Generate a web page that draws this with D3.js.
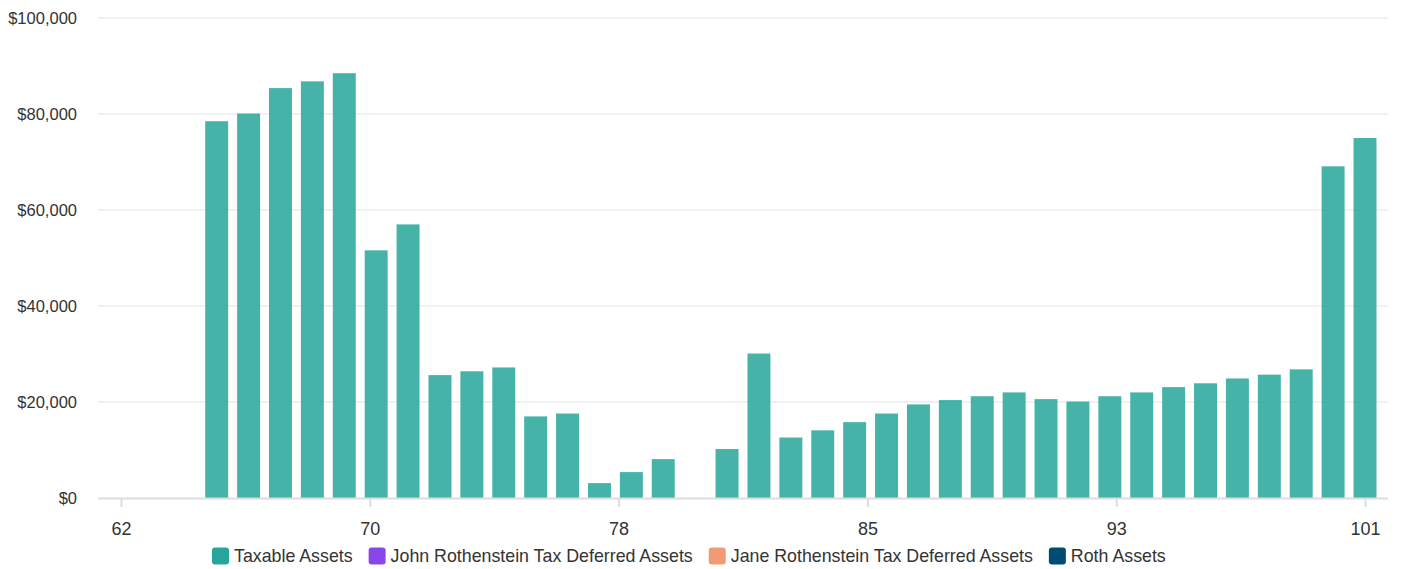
<!DOCTYPE html>
<html>
<head>
<meta charset="utf-8">
<script src="https://cdn.jsdelivr.net/npm/d3@7"></script>
<style>
  html, body { margin: 0; padding: 0; background: #fff; }
  svg { display: block; font-family: "Liberation Sans", Arial, Helvetica, sans-serif; }
</style>
</head>
<body>
<svg id="chart" width="1403" height="569"></svg>
<script>
// Ages shown on the horizontal axis
const ages = d3.range(62, 102);

// Year-end balances per age (USD)
const taxableAssets = [
  0, 0, 0, 78500, 80100, 85400, 86800, 88500, 51600, 57000,
  25600, 26400, 27200, 17000, 17600, 3100, 5400, 8100, 0, 10200,
  30100, 12600, 14100, 15800, 17600, 19500, 20400, 21200, 22000, 20600,
  20100, 21200, 22000, 23100, 23900, 24900, 25700, 26800, 69100, 75000
];
const johnTaxDeferred = ages.map(() => 0);
const janeTaxDeferred = ages.map(() => 0);
const rothAssets = ages.map(() => 0);

const seriesNames = [
  "Taxable Assets",
  "John Rothenstein Tax Deferred Assets",
  "Jane Rothenstein Tax Deferred Assets",
  "Roth Assets"
];
const seriesColors = ["#26a69a", "#8847e8", "#f09b73", "#004b74"];
const yTicks = [0, 20000, 40000, 60000, 80000, 100000];
const xTickCount = 6;

const svg = d3.select("#chart");
const plot = { left: 98, right: 1388, top: 18, bottom: 498 };

// Linear age scale: first and last age sit inset from the plot edges
const x = d3.scaleLinear().domain([62, 101]).range([121, 1365]);
const step = x(63) - x(62);
const barWidth = step * 0.72;

const y = d3.scaleLinear().domain([0, 100000]).range([plot.bottom, plot.top]);

// Horizontal gridlines
svg.append("g")
  .selectAll("line")
  .data(yTicks.filter(d => d > 0))
  .join("line")
  .attr("x1", plot.left).attr("x2", plot.right)
  .attr("y1", d => y(d)).attr("y2", d => y(d))
  .attr("stroke", "#e3e3e3").attr("stroke-width", 1.2);

// Y axis labels
const yAxis = d3.axisLeft(y)
  .tickValues(yTicks)
  .tickSize(0)
  .tickPadding(0)
  .tickFormat(d => "$" + d3.format(",")(d));
const gy = svg.append("g").attr("transform", `translate(77,0)`).call(yAxis);
gy.select(".domain").remove();
gy.selectAll("text")
  .attr("font-size", 16.5)
  .attr("fill", "#333")
  .attr("dy", "0.32em");

// Stacked bars
const rows = ages.map((a, i) => ({
  age: a,
  s0: taxableAssets[i],
  s1: johnTaxDeferred[i],
  s2: janeTaxDeferred[i],
  s3: rothAssets[i]
}));
const stack = d3.stack().keys(["s0", "s1", "s2", "s3"])(rows);
svg.append("g")
  .selectAll("g")
  .data(stack)
  .join("g")
  .attr("fill", (d, i) => seriesColors[i])
  .attr("fill-opacity", 0.85)
  .selectAll("rect")
  .data(d => d.filter(p => p[1] - p[0] > 0))
  .join("rect")
  .attr("x", d => x(d.data.age) - barWidth / 2)
  .attr("width", barWidth)
  .attr("y", d => y(d[1]))
  .attr("height", d => y(d[0]) - y(d[1]));

// X axis: evenly spaced ticks across the age range, labels rounded
const xTickValues = d3.range(xTickCount).map(i => 62 + i * (101 - 62) / (xTickCount - 1));
svg.append("line")
  .attr("x1", plot.left).attr("x2", plot.right)
  .attr("y1", plot.bottom + 0.5).attr("y2", plot.bottom + 0.5)
  .attr("stroke", "#dddddd").attr("stroke-width", 2);
const xAxis = d3.axisBottom(x)
  .tickValues(xTickValues)
  .tickSize(9)
  .tickPadding(15)
  .tickFormat(d => Math.round(d));
const gx = svg.append("g").attr("transform", `translate(0,${plot.bottom})`).call(xAxis);
gx.select(".domain").remove();
gx.selectAll("line").attr("stroke", "#dddddd").attr("stroke-width", 2);
gx.selectAll("text").attr("font-size", 18).attr("fill", "#333");

// Legend
const legend = svg.append("g").attr("transform", "translate(212,556)");
let lx = 0;
seriesNames.forEach((name, i) => {
  const item = legend.append("g").attr("transform", `translate(${lx},0)`);
  item.append("rect")
    .attr("x", 0).attr("y", -8.5).attr("width", 17).attr("height", 17)
    .attr("rx", 3).attr("fill", seriesColors[i]);
  const t = item.append("text")
    .attr("x", 22).attr("y", 0).attr("dy", "0.35em")
    .attr("font-size", 17.8).attr("fill", "#333")
    .text(name);
  lx += 22 + t.node().getComputedTextLength() + 16;
});
</script>
</body>
</html>
